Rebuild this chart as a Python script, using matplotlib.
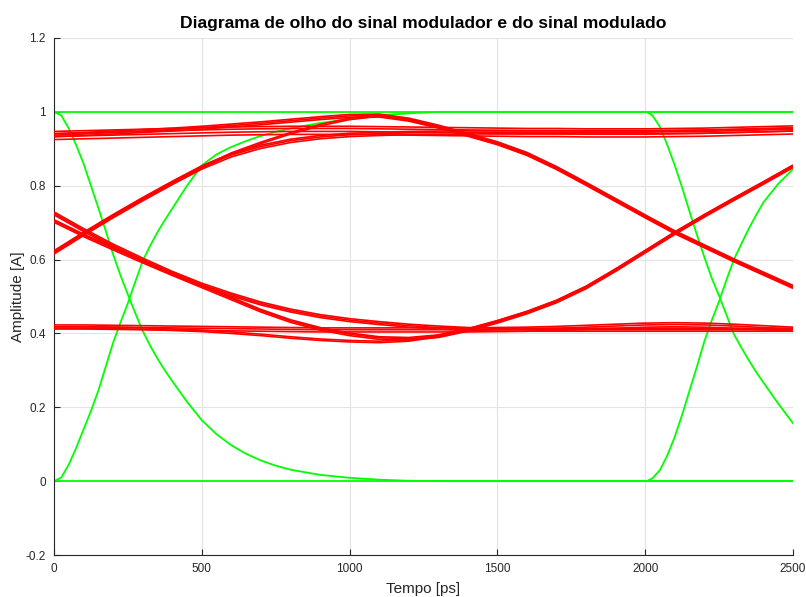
import matplotlib
matplotlib.use("Agg")
import matplotlib.pyplot as plt
import numpy as np

plt.rcParams['font.family'] = ['Liberation Sans', 'DejaVu Sans']

# ---------------- data ----------------
title = "Diagrama de olho do sinal modulador e do sinal modulado"
xlabel = "Tempo [ps]"
ylabel = "Amplitude [A]"
x_ticks = [0, 500, 1000, 1500, 2000, 2500]
y_ticks = [-0.2, 0, 0.2, 0.4, 0.6, 0.8, 1, 1.2]
y_tick_labels = ["-0.2", "0", "0.2", "0.4", "0.6", "0.8", "1", "1.2"]

# modulating signal (green)
green_level_t = [0, 2500]
green_high = [1.0, 1.0]
green_low = [0.0, 0.0]

green_fall1_t = [0, 25, 50, 75, 100, 125, 150, 175, 200, 225, 250, 275, 300, 325, 350,
                 375, 400, 450, 500, 550, 600, 650, 700, 750, 800, 900, 1000, 1100,
                 1200, 1300, 2500]
green_fall1_y = [1.0, 0.99, 0.955, 0.91, 0.86, 0.80, 0.74, 0.678, 0.614, 0.557, 0.505,
                 0.455, 0.407, 0.367, 0.332, 0.30, 0.271, 0.215, 0.165, 0.127, 0.097,
                 0.074, 0.056, 0.042, 0.031, 0.017, 0.009, 0.004, 0.001, 0.0, 0.0]
green_rise1_t = [0, 25, 50, 75, 100, 125, 150, 175, 200, 225, 250, 275, 300, 325, 350,
                 375, 400, 450, 500, 550, 600, 650, 700, 750, 800, 900, 1000, 1100,
                 1200, 1300, 2500]
green_rise1_y = [0.0, 0.01, 0.045, 0.09, 0.14, 0.19, 0.245, 0.31, 0.375, 0.43, 0.482,
                 0.54, 0.596, 0.637, 0.674, 0.707, 0.738, 0.80, 0.855, 0.885, 0.905,
                 0.921, 0.935, 0.946, 0.955, 0.97, 0.98, 0.99, 0.996, 1.0, 1.0]

green_fall2_t = [2005, 2025, 2050, 2075, 2100, 2125, 2150, 2175, 2200, 2225, 2250, 2275,
                 2300, 2325, 2350, 2375, 2400, 2450, 2500]
green_fall2_y = [1.0, 0.99, 0.959, 0.91, 0.855, 0.795, 0.73, 0.667, 0.607, 0.55, 0.502,
                 0.45, 0.398, 0.362, 0.328, 0.296, 0.267, 0.21, 0.157]
green_rise2_t = [2005, 2025, 2050, 2075, 2100, 2125, 2150, 2175, 2200, 2225, 2250, 2275,
                 2300, 2325, 2350, 2375, 2400, 2450, 2500]
green_rise2_y = [0.0, 0.008, 0.03, 0.07, 0.12, 0.18, 0.245, 0.31, 0.378, 0.435, 0.487,
                 0.545, 0.60, 0.642, 0.683, 0.72, 0.755, 0.805, 0.845]

# modulated signal (red), one base trace per 3-bit pattern, sampled every 100 ps
red_t = [0, 100, 200, 300, 400, 500, 600, 700, 800, 900, 1000, 1100, 1200,
         1300, 1400, 1500, 1600, 1700, 1800, 1900, 2000, 2100, 2200, 2300, 2400, 2500]

red_HHH = [0.937, 0.939, 0.941, 0.943, 0.945, 0.947, 0.949, 0.950, 0.951, 0.951, 0.951,
           0.950, 0.949, 0.948, 0.947, 0.946, 0.945, 0.945, 0.944, 0.944, 0.944, 0.945,
           0.946, 0.948, 0.950, 0.952]
red_HHL = [0.937, 0.940, 0.944, 0.948, 0.952, 0.957, 0.963, 0.969, 0.976, 0.983, 0.989,
           0.990, 0.979, 0.960, 0.938, 0.915, 0.886, 0.848, 0.805, 0.761, 0.717, 0.674,
           0.636, 0.598, 0.562, 0.526]
red_LHH = [0.620, 0.670, 0.718, 0.764, 0.808, 0.850, 0.883, 0.906, 0.922, 0.932, 0.938,
           0.941, 0.943, 0.944, 0.945, 0.945, 0.945, 0.945, 0.945, 0.945, 0.945, 0.946,
           0.947, 0.949, 0.951, 0.953]
red_LHL = [0.620, 0.670, 0.718, 0.764, 0.808, 0.850, 0.887, 0.916, 0.942, 0.964, 0.981,
           0.990, 0.979, 0.960, 0.938, 0.915, 0.886, 0.848, 0.805, 0.761, 0.717, 0.674,
           0.636, 0.598, 0.562, 0.526]
red_HLL = [0.725, 0.680, 0.638, 0.600, 0.564, 0.532, 0.505, 0.481, 0.462, 0.447, 0.436,
           0.428, 0.421, 0.416, 0.412, 0.410, 0.410, 0.410, 0.410, 0.410, 0.410, 0.410,
           0.410, 0.410, 0.410, 0.410]
red_HLH = [0.705, 0.666, 0.630, 0.595, 0.561, 0.528, 0.495, 0.462, 0.434, 0.413, 0.398,
           0.388, 0.386, 0.393, 0.410, 0.432, 0.457, 0.487, 0.525, 0.572, 0.622, 0.672,
           0.719, 0.764, 0.808, 0.853]
red_LLH = [0.416, 0.416, 0.415, 0.413, 0.410, 0.407, 0.402, 0.396, 0.389, 0.383, 0.379,
           0.377, 0.381, 0.393, 0.410, 0.432, 0.457, 0.487, 0.525, 0.572, 0.622, 0.672,
           0.719, 0.764, 0.808, 0.853]
red_LLL = [0.418, 0.418, 0.417, 0.416, 0.415, 0.414, 0.413, 0.412, 0.411, 0.410, 0.410,
           0.410, 0.410, 0.410, 0.410, 0.411, 0.412, 0.414, 0.417, 0.420, 0.423, 0.424,
           0.423, 0.420, 0.416, 0.412]

# spread of the individual traces inside each bundle
spread_HHH = [-0.012, -0.004, 0.004, 0.010]
spread_HHL = [-0.004, 0.0, 0.004]
spread_LHH = [-0.005, 0.0, 0.004]
spread_LHL = [-0.002, 0.002]
spread_HLL = [-0.004, 0.0, 0.004]
spread_HLH = [-0.004, 0.0, 0.003]
spread_LLH = [-0.002, 0.002]
spread_LLL = [-0.006, 0.0, 0.005]

# ---------------- figure ----------------
fig = plt.figure(figsize=(8.06, 5.97), dpi=100)
ax = fig.add_axes([54 / 806, 42 / 597, (793 - 54) / 806, (555 - 38) / 597])

green = '#00ff00'
red = '#ff0000'
lw_g = 1.3
lw_r = 1.2

ax.plot(green_level_t, green_high, color=green, lw=lw_g, zorder=2)
ax.plot(green_level_t, green_low, color=green, lw=lw_g, zorder=2)
ax.plot(green_fall1_t, green_fall1_y, color=green, lw=lw_g, zorder=2)
ax.plot(green_rise1_t, green_rise1_y, color=green, lw=lw_g, zorder=2)
ax.plot(green_fall2_t, green_fall2_y, color=green, lw=lw_g, zorder=2)
ax.plot(green_rise2_t, green_rise2_y, color=green, lw=lw_g, zorder=2)

groups = [
    (red_HHH, spread_HHH), (red_HHL, spread_HHL), (red_LHH, spread_LHH),
    (red_LHL, spread_LHL), (red_HLL, spread_HLL), (red_HLH, spread_HLH),
    (red_LLH, spread_LLH), (red_LLL, spread_LLL),
]
rt = np.array(red_t, dtype=float)
for base, spread in groups:
    b = np.array(base, dtype=float)
    for d in spread:
        ax.plot(rt, b + d, color=red, lw=lw_r, zorder=3, solid_capstyle='butt')

ax.set_xlim(0, 2500)
ax.set_ylim(-0.2, 1.2)
ax.set_xticks(x_ticks)
ax.set_xticklabels([str(v) for v in x_ticks])
ax.set_yticks(y_ticks)
ax.set_yticklabels(y_tick_labels)

ax.grid(True, color='#e3e3e3', lw=0.8, zorder=0)
ax.set_axisbelow(True)
for s in ['top', 'right']:
    ax.spines[s].set_visible(False)
for s in ['left', 'bottom']:
    ax.spines[s].set_color('#262626')
    ax.spines[s].set_linewidth(0.8)
ax.tick_params(direction='in', length=4, width=0.8, colors='#262626',
               labelsize=8.5, top=False, right=False, pad=6)

ax.set_title(title, fontsize=12.6, fontweight='bold', color='black', pad=7)
ax.set_xlabel(xlabel, fontsize=11, color='#262626', labelpad=4.5)
ax.set_ylabel(ylabel, fontsize=11, color='#262626', labelpad=0.5)

fig.savefig('out.png', dpi=100)
